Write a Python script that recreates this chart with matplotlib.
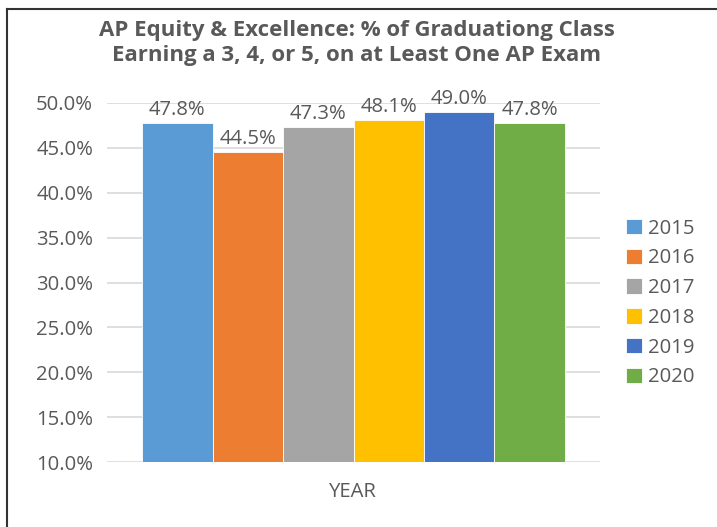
import matplotlib.pyplot as plt
from matplotlib.lines import Line2D
from matplotlib.ticker import FuncFormatter

# AP equity & excellence, share of graduating class with 3+ on an AP exam

years = ["2015", "2016", "2017", "2018", "2019", "2020"]
pct = [47.8, 44.5, 47.3, 48.1, 49.0, 47.8]
colors = ["#5B9BD5", "#ED7D31", "#A5A5A5", "#FFC000", "#4472C4", "#70AD47"]
yticks = [10, 15, 20, 25, 30, 35, 40, 45, 50]

plt.rcParams['font.family'] = ['Open Sans', 'DejaVu Sans']
txt = "#595959"
fs = 14.6

fig = plt.figure(figsize=(7.17, 5.27), dpi=100)
W, H = 717, 527
ax = fig.add_axes([107 / W, 1 - 462 / H, (600 - 107) / W, (462 - 103) / H])

for i, (y, v, c) in enumerate(zip(years, pct, colors)):
    ax.bar(i, v - 10, bottom=10, width=1.0, color=c, edgecolor="white",
           linewidth=0.6, label=y, zorder=3)
    ax.text(i, v + 0.35, f"{v:.1f}%", ha="center", va="bottom",
            fontsize=fs, color=txt, zorder=4)

ax.set_xlim(-1, 6)
ax.set_ylim(10, 50)
ax.set_yticks(yticks)
ax.yaxis.set_major_formatter(FuncFormatter(lambda v, p: f"{v:.1f}%"))
ax.set_xticks([])
ax.grid(axis="y", color="#d9d9d9", linewidth=1.2, zorder=0)
for s in ax.spines.values():
    s.set_visible(False)
ax.tick_params(axis="y", length=0, labelsize=fs, labelcolor=txt, pad=10)

fig.text(353 / W, 1 - 492 / H, "YEAR", ha="center", va="center",
         fontsize=fs, color=txt)
fig.text(357 / W, 1 - 43 / H,
         "AP Equity & Excellence: % of Graduationg Class\nEarning a 3, 4, or 5, on at Least One AP Exam",
         ha="center", va="center", fontsize=16, fontweight="bold", color=txt,
         linespacing=1.3)

leg = fig.legend(loc="center left", bbox_to_anchor=(616 / W, 1 - 303 / H),
                 frameon=False, fontsize=fs, labelcolor=txt,
                 handlelength=0.8, handleheight=0.8, handletextpad=0.3,
                 labelspacing=0.48, borderpad=0)

# outer frame, only top and left visible
fig.add_artist(Line2D([7 / W, 7 / W], [0, 1 - 9 / H], color="#333333", linewidth=1.5))
fig.add_artist(Line2D([7 / W, 1], [1 - 9 / H, 1 - 9 / H], color="#333333", linewidth=1.5))

fig.savefig("out.png", dpi=100)
